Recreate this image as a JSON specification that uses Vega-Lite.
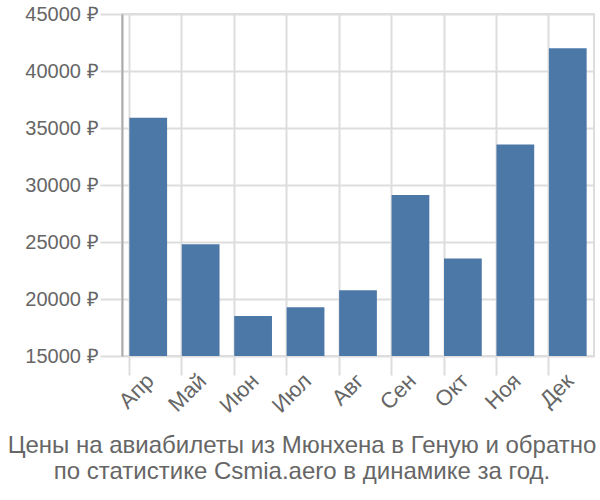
{
  "$schema": "https://vega.github.io/schema/vega-lite/v6.json",
  "autosize": "none",
  "width": 472,
  "height": 342,
  "padding": {"left": 122, "top": 14, "right": 6, "bottom": 144},
  "background": "white",
  "config": {
    "font": "Liberation Sans",
    "view": {"stroke": "#dddddd", "strokeWidth": 2}
  },
  "title": {
    "text": ["Цены на авиабилеты из Мюнхена в Геную и обратно", "по статистике Csmia.aero в динамике за год."],
    "orient": "bottom",
    "anchor": "middle",
    "fontSize": 24,
    "fontWeight": "normal",
    "color": "#666666",
    "lineHeight": 26,
    "offset": 18,
    "dx": -56
  },
  "data": {
    "values": [
      {"month": "Апр", "price": 35900},
      {"month": "Май", "price": 24800},
      {"month": "Июн", "price": 18500},
      {"month": "Июл", "price": 19270},
      {"month": "Авг", "price": 20760},
      {"month": "Сен", "price": 29120},
      {"month": "Окт", "price": 23560},
      {"month": "Ноя", "price": 33550},
      {"month": "Дек", "price": 42000}
    ]
  },
  "mark": {"type": "bar", "color": "#4c78a8", "clip": true},
  "encoding": {
    "x": {
      "field": "month",
      "type": "nominal",
      "sort": null,
      "scale": {"paddingInner": 0.28, "paddingOuter": 0.14},
      "axis": {
        "title": null,
        "bandPosition": 0,
        "grid": true,
        "gridColor": "#dddddd",
        "gridWidth": 2,
        "domain": false,
        "tickColor": "#dddddd",
        "tickWidth": 2,
        "tickSize": 19,
        "labelAngle": -45,
        "labelAlign": "right",
        "labelBaseline": "middle",
        "labelFontSize": 22,
        "labelColor": "#666666",
        "labelPadding": 2,
        "labelOffset": 2
      }
    },
    "y": {
      "field": "price",
      "type": "quantitative",
      "scale": {"domain": [15000, 45000], "nice": false, "zero": false},
      "axis": {
        "title": null,
        "values": [15000, 20000, 25000, 30000, 35000, 40000, 45000],
        "labelExpr": "datum.value + ' ₽'",
        "grid": true,
        "gridColor": "#dddddd",
        "gridWidth": 2,
        "domainColor": "#aaaaaa",
        "domainWidth": 2,
        "tickColor": "#dddddd",
        "tickWidth": 2,
        "tickSize": 22,
        "labelFontSize": 20,
        "labelColor": "#666666",
        "labelPadding": 2
      }
    }
  }
}
